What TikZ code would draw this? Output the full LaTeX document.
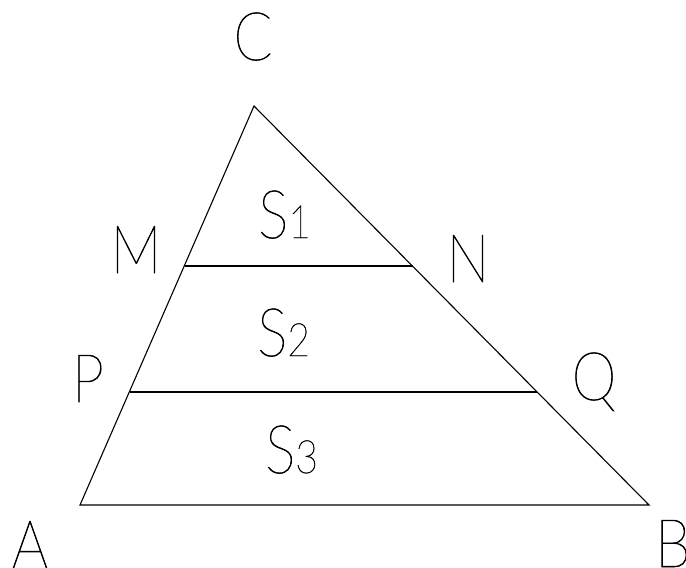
\documentclass[tikz,border=0pt]{standalone}
\usepackage{fontspec}
\IfFontExistsTF{Lato Thin}{\setmainfont{Lato Thin}[FakeStretch=0.85,FakeBold=1]}{%
  \IfFontExistsTF{Lato Hairline}{\setmainfont{Lato Hairline}[FakeStretch=0.85,FakeBold=1.5]}{%
    \IfFontExistsTF{Lato Light}{\setmainfont{Lato Light}[FakeStretch=0.85]}{%
      \setmainfont{DejaVu Sans}[FakeStretch=0.8]}}}
\newcommand{\sub}[1]{{\fontsize{46}{46}\selectfont #1}}
\begin{document}
\begin{tikzpicture}[x=1pt,y=-1pt,
  lbl/.style={inner sep=0pt, anchor=base, font=\fontsize{67}{67}\selectfont},
  slbl/.style={inner sep=0pt, anchor=base west, font=\fontsize{67}{67}\selectfont},
  edge/.style={line width=1.1pt, line join=miter}]
\useasboundingbox (0,0) rectangle (686,568);
\coordinate (C) at (254,106);
\coordinate (A) at (80,505);
\coordinate (B) at (649,505);
\coordinate (M) at (184.5,266);
\coordinate (N) at (412.5,266);
\coordinate (P) at (129.5,392);
\coordinate (Q) at (537,392);
\draw[edge] (A) -- (B) -- (C) -- cycle;
\draw[edge] (M) -- (N);
\draw[edge] (P) -- (Q);
\node[lbl] (lC) at (253,60) {C};
\node[lbl] (lM) at (136,273) {M};
\node[lbl] (lN) at (468,282) {N};
\node[lbl] (lP) at (88,402) {P};
\node[lbl] (lQ) at (594,400) {Q};
\node[lbl] (lA) at (30,568) {A};
\node[lbl, anchor=base west] (lB) at (655,567) {B};
\node[slbl] (s1) at (258,238) {S\sub{1}};
\node[slbl] (s2) at (257,356) {S\sub{2}};
\node[slbl] (s3) at (265,473) {S\sub{3}};
\end{tikzpicture}
\end{document}
